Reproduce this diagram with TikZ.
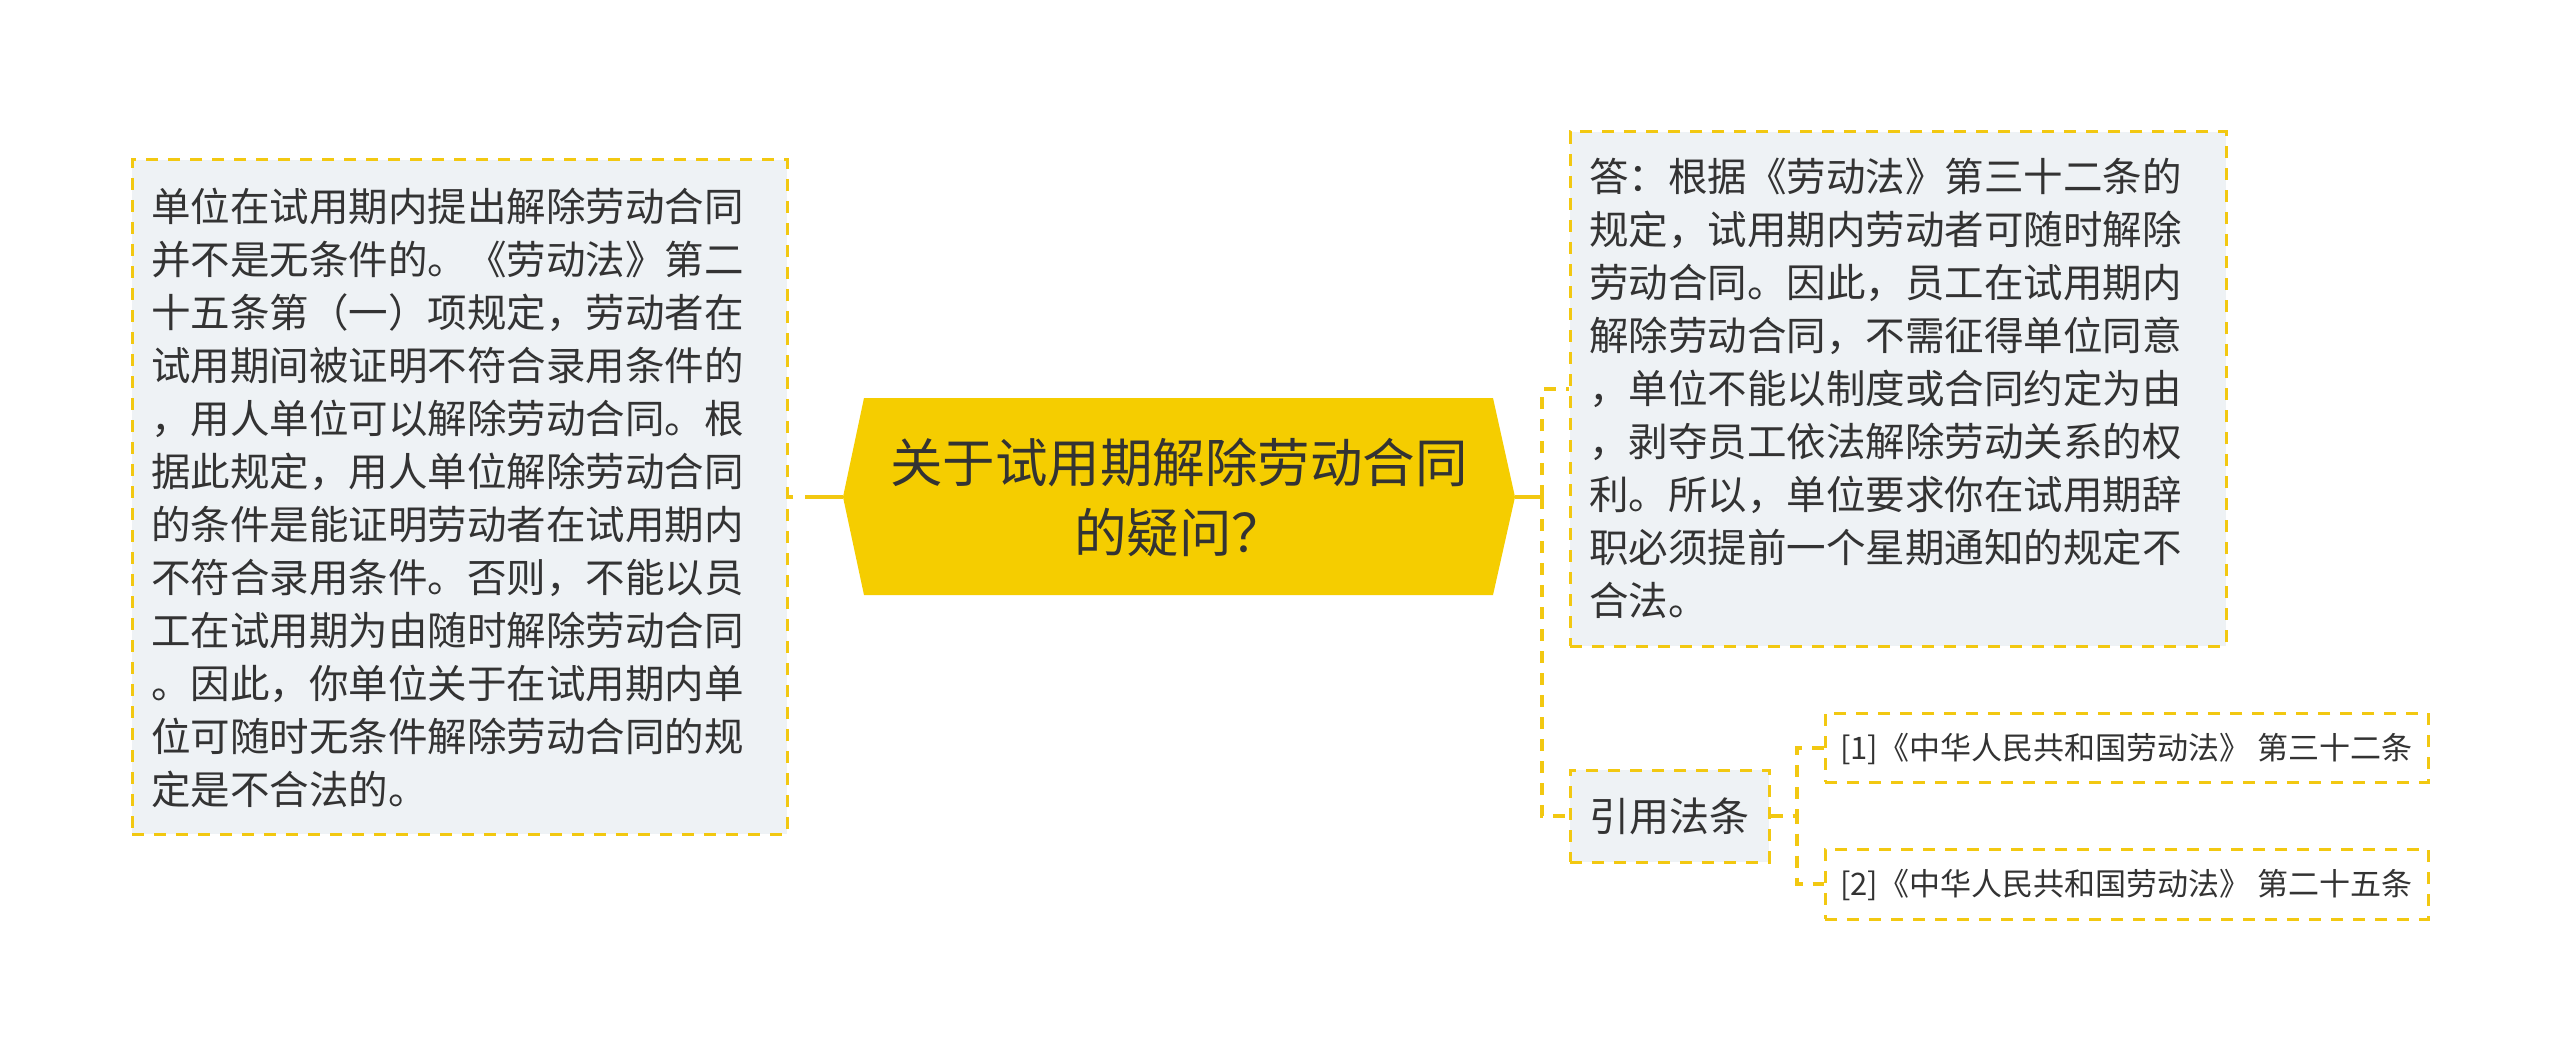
\documentclass[tikz,border=0pt]{standalone}
\usepackage{fontspec}
\setmainfont{Noto Sans CJK SC}
\definecolor{ylw}{HTML}{F2C811}
\definecolor{hexfill}{HTML}{F5CD00}
\definecolor{boxfill}{HTML}{EEF2F5}
\definecolor{txt}{HTML}{333333}
\tikzset{
  dashbox/.style={draw=ylw, line width=3pt, dash pattern=on 12pt off 10pt, fill=boxfill, rectangle, inner sep=0pt},
  refbox/.style={dashbox, fill=white},
  conn/.style={draw=ylw, line width=4pt, dash pattern=on 12pt off 10pt},
  txtblock/.style={inner sep=0pt, text=txt, anchor=base west},
}
\begin{document}
\begin{tikzpicture}[x=1pt, y=-1pt]
\useasboundingbox (0,0) rectangle (2560,1051);
\fill[white] (0,0) rectangle (2560,1051);

% coordinates
\coordinate (hl) at (843,497);
\coordinate (hr) at (1515,497);
\coordinate (spine) at (1542,497);
\coordinate (spine2) at (1797,816);

% boxes (placed first so names exist; drawn again on top of connectors)
\path node[dashbox, minimum width=655pt, minimum height=674pt] (leftbox) at (459.5,497) {}
      node[dashbox, minimum width=656pt, minimum height=514pt] (ans) at (1898,389) {}
      node[dashbox, minimum width=199pt, minimum height=92pt, font=\fontsize{40}{48}\selectfont, text=txt] (cite) at (1669.5,816) {引用法条}
      node[refbox, minimum width=603pt, minimum height=69pt] (ref1) at (2126.5,747.5) {}
      node[refbox, minimum width=603pt, minimum height=70pt] (ref2) at (2126.5,884) {};

% connectors
\draw[ylw, line width=4pt, dash pattern=on 38pt off 12pt] (hl) -- (hl -| leftbox.east);
\draw[ylw, line width=4pt] (hr) -- (spine);
\draw[conn] (spine) |- (ans.west);
\draw[conn] (spine) |- (cite.west);
\draw[conn] (cite.east) -- (spine2) |- (ref1.west);
\draw[conn] (cite.east) -- (spine2) |- (ref2.west);

% redraw boxes on top
\path node[dashbox, minimum width=655pt, minimum height=674pt] at (459.5,497) {}
      node[dashbox, minimum width=656pt, minimum height=514pt] at (1898,389) {}
      node[dashbox, minimum width=199pt, minimum height=92pt, font=\fontsize{40}{48}\selectfont, text=txt] at (1669.5,816) {引用法条}
      node[refbox, minimum width=603pt, minimum height=69pt] at (2126.5,747.5) {}
      node[refbox, minimum width=603pt, minimum height=70pt] at (2126.5,884) {};

% hexagon root
\fill[hexfill] (864,398) -- (1493,398) -- (hr) -- (1493,595) -- (864,595) -- (hl) -- cycle;
\node[inner sep=0pt, text=txt, anchor=base, font=\fontsize{52.5}{70}\selectfont] (root) at (1179,482)
  {\parbox[t]{720pt}{\centering 关于试用期解除劳动合同\\
的疑问？}};

% texts
\node[txtblock, font=\fontsize{39.5}{53}\selectfont] (lefttext) at (151,222)
  {\parbox[t]{640pt}{单位在试用期内提出解除劳动合同\\
并不是无条件的。《劳动法》第二\\
十五条第（一）项规定，劳动者在\\
试用期间被证明不符合录用条件的\\
，用人单位可以解除劳动合同。根\\
据此规定，用人单位解除劳动合同\\
的条件是能证明劳动者在试用期内\\
不符合录用条件。否则，不能以员\\
工在试用期为由随时解除劳动合同\\
。因此，你单位关于在试用期内单\\
位可随时无条件解除劳动合同的规\\
定是不合法的。}};

\node[txtblock, font=\fontsize{39.5}{53}\selectfont] (anstext) at (1589,192)
  {\parbox[t]{640pt}{答：根据《劳动法》第三十二条的\\
规定，试用期内劳动者可随时解除\\
劳动合同。因此，员工在试用期内\\
解除劳动合同，不需征得单位同意\\
，单位不能以制度或合同约定为由\\
，剥夺员工依法解除劳动关系的权\\
利。所以，单位要求你在试用期辞\\
职必须提前一个星期通知的规定不\\
合法。}};

\node[txtblock, font=\fontsize{31}{37}\selectfont] (ref1text) at (1840,759.3) {[1]《中华人民共和国劳动法》 第三十二条};
\node[txtblock, font=\fontsize{31}{37}\selectfont] (ref2text) at (1840,895.8) {[2]《中华人民共和国劳动法》 第二十五条};
\end{tikzpicture}
\end{document}
